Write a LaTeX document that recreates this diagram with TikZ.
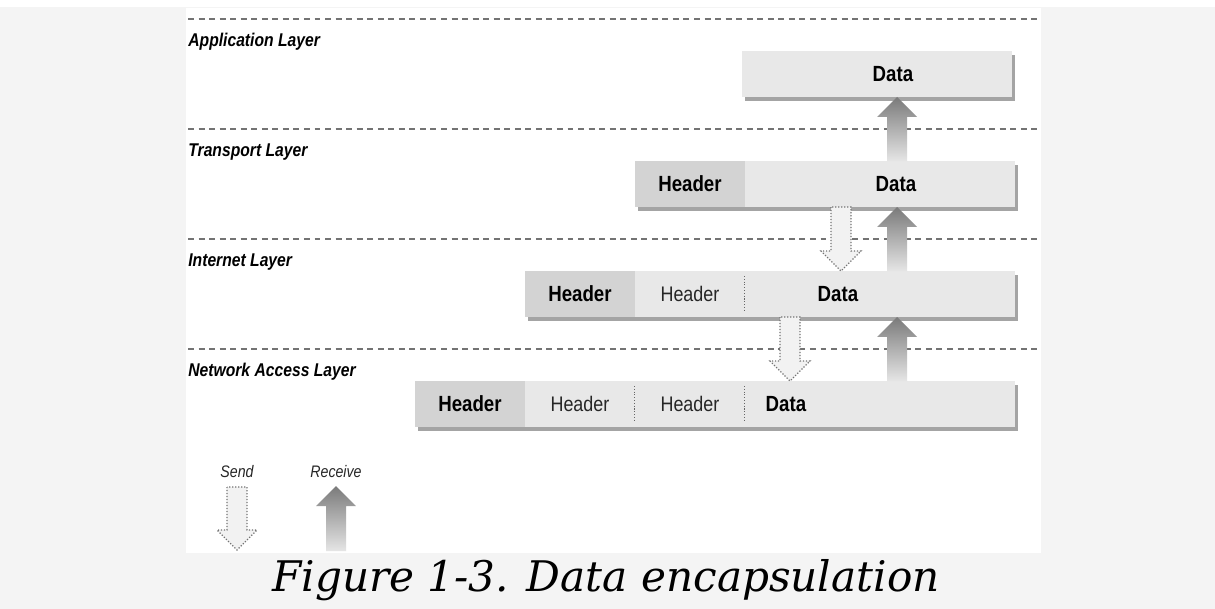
\documentclass[tikz,border=0pt]{standalone}
\usepackage{fontspec}
\usepackage{xcolor}
\usetikzlibrary{positioning,shadows,calc}
\newfontfamily\condfont[FakeStretch=0.85]{Liberation Sans}
\newfontfamily\capfont{DejaVu Serif}
\definecolor{pagegray}{HTML}{F4F4F4}
\definecolor{boxgray}{HTML}{E8E8E8}
\definecolor{hdrgray}{HTML}{D3D3D3}
\definecolor{shadegray}{HTML}{A4A4A4}
\definecolor{sepgray}{HTML}{666666}

\tikzset{
  seg/.style={anchor=west,minimum height=0.92cm,inner sep=0pt,outer sep=0pt,
    drop shadow={shadow xshift=1.6pt,shadow yshift=-2.4pt,fill=shadegray,opacity=1}},
  hdrseg/.style={seg,fill=hdrgray,minimum width=2.2cm,font=\condfont\bfseries\fontsize{12.5}{14}\selectfont},
  plainseg/.style={seg,fill=boxgray,minimum width=2.2cm,text=black!85,font=\condfont\fontsize{12}{14}\selectfont},
  dataseg/.style={seg,fill=boxgray,minimum width=5.4cm},
  datatxt/.style={inner sep=0pt,font=\condfont\bfseries\fontsize{12.5}{14}\selectfont},
  layerlbl/.style={anchor=west,inner sep=0pt,font=\condfont\bfseries\itshape\fontsize{10.5}{12}\selectfont},
  legendlbl/.style={inner sep=0pt,text=black!85,font=\condfont\itshape\fontsize{9.5}{11}\selectfont},
  sepline/.style={draw=black!55,line width=0.7pt,dash pattern=on 3.4pt off 2.6pt},
  divider/.style={draw=sepgray,densely dotted,line width=0.6pt},
  recvfill/.style={top color=black!52,bottom color=black!10},
  sendfill/.style={fill=black!5,draw=black!55,densely dotted,line width=0.7pt}
}

% block arrows: #1 = tail, #2 = tip
\newcommand\recvarrow[2]{%
  \path[recvfill] let \p1=(#1), \p2=(#2) in
    (\x1-0.2cm,\y1) -- (\x1-0.2cm,\y2-0.4cm) -- (\x1-0.4cm,\y2-0.4cm)
    -- (\x1,\y2) -- (\x1+0.4cm,\y2-0.4cm) -- (\x1+0.2cm,\y2-0.4cm)
    -- (\x1+0.2cm,\y1) -- cycle;}
\newcommand\sendarrow[2]{%
  \path[sendfill] let \p1=(#1), \p2=(#2) in
    (\x1-0.2cm,\y1) -- (\x1-0.2cm,\y2+0.4cm) -- (\x1-0.4cm,\y2+0.4cm)
    -- (\x1,\y2) -- (\x1+0.4cm,\y2+0.4cm) -- (\x1+0.2cm,\y2+0.4cm)
    -- (\x1+0.2cm,\y1) -- cycle;}

\begin{document}
\begin{tikzpicture}[x=0.02cm,y=-0.02cm]
\useasboundingbox (0,0) rectangle (1215,609);
\fill[pagegray] (0,0) rectangle (1215,609);
\fill[white] (0,0) rectangle (1215,7);
\fill[white] (186,8) rectangle (1041,553);

% layer separators
\draw[sepline] (188,19) -- (1041,19);
\draw[sepline] (188,129) -- (1041,129);
\draw[sepline] (188,239) -- (1041,239);
\draw[sepline] (188,349) -- (1041,349);

\node[layerlbl] (applbl) at (188,42) {Application Layer};
\node[layerlbl] (trlbl) at (188,152) {Transport Layer};
\node[layerlbl] (inlbl) at (188,262) {Internet Layer};
\node[layerlbl] (nalbl) at (188,372) {Network Access Layer};

% application
\node[dataseg] (appdata) at (742,74) {};
\node[datatxt] (apptxt) at ($(appdata.center)+(16,0)$) {Data};

% transport
\node[hdrseg] (trhdr) at (635,184) {Header};
\node[dataseg,right=0pt of trhdr] (trdata) {};
\node[datatxt] (trtxt) at ($(trdata.center)+(16,0)$) {Data};

% internet
\node[hdrseg] (inhdr) at (525,294) {Header};
\node[plainseg,right=0pt of inhdr] (inh1) {Header};
\node[dataseg,right=0pt of inh1] (indata) {};
\node[datatxt] (intxt) at ($(indata.center)+(-42,0)$) {Data};
\draw[divider] ($(inh1.north east)+(0,5)$) -- ($(inh1.south east)+(0,-5)$);

% network access
\node[hdrseg] (nahdr) at (415,404) {Header};
\node[plainseg,right=0pt of nahdr] (nah1) {Header};
\node[plainseg,right=0pt of nah1] (nah2) {Header};
\node[dataseg,right=0pt of nah2] (nadata) {};
\node[datatxt] (natxt) at ($(nadata.center)+(-94,0)$) {Data};
\draw[divider] ($(nah1.north east)+(0,5)$) -- ($(nah1.south east)+(0,-5)$);
\draw[divider] ($(nah2.north east)+(0,5)$) -- ($(nah2.south east)+(0,-5)$);

% arrows between layers
\coordinate (rcol) at (897,0);
\coordinate (scol1) at (841,0);
\coordinate (scol2) at (790,0);
\recvarrow{trdata.north -| rcol}{appdata.south -| rcol}
\recvarrow{indata.north -| rcol}{trdata.south -| rcol}
\recvarrow{nadata.north -| rcol}{indata.south -| rcol}
\sendarrow{trdata.south -| scol1}{indata.north -| scol1}
\sendarrow{indata.south -| scol2}{nadata.north -| scol2}

% legend
\node[legendlbl] (sendlbl) at (237,472) {Send};
\node[legendlbl] (recvlbl) at (336,472) {Receive};
\coordinate (sendtop) at (237,487);
\coordinate (sendtip) at (237,550);
\coordinate (recvbot) at (336,551);
\coordinate (recvtip) at (336,486);
\sendarrow{sendtop}{sendtip}
\recvarrow{recvbot}{recvtip}

\node[font=\capfont\itshape\fontsize{24}{28}\selectfont,inner sep=0pt] (caption) at (606,580) {Figure 1-3. Data encapsulation};
\end{tikzpicture}
\end{document}
